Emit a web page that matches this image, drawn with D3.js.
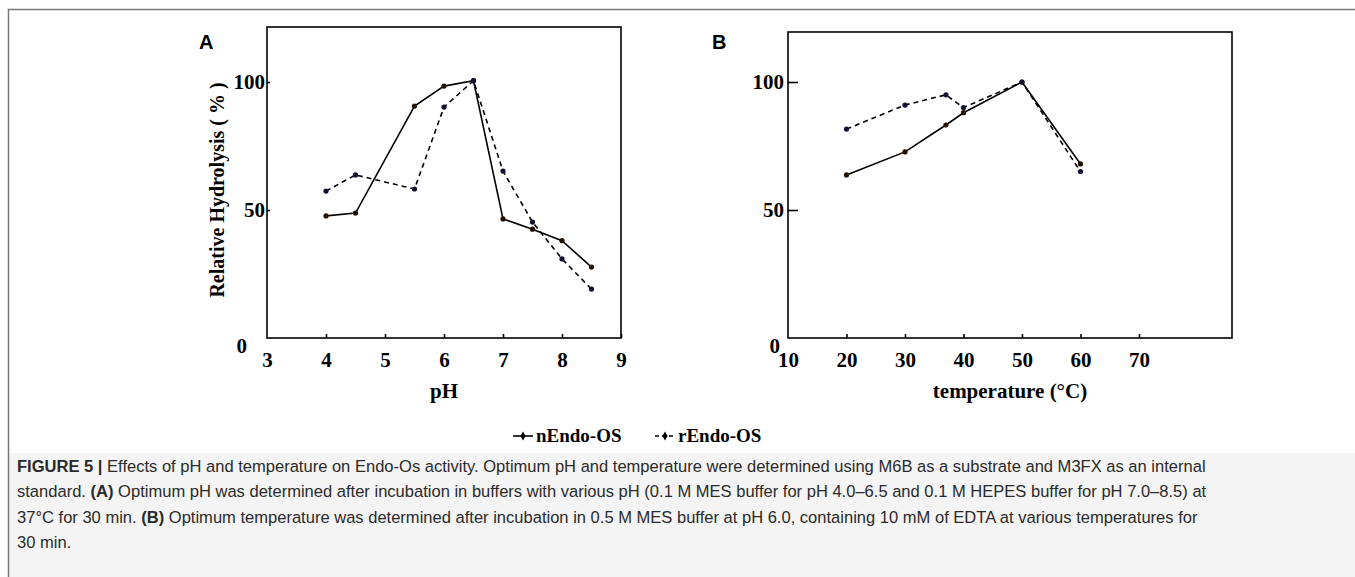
<!DOCTYPE html>
<html>
<head>
<meta charset="utf-8">
<script src="https://cdn.jsdelivr.net/npm/d3@7"></script>
<style>
  body { margin: 0; background: #fff; }
  svg { display: block; }
  .tick text { font-family: "Liberation Serif", "Times New Roman", serif; font-weight: bold; font-size: 21px; fill: #000; }
  .axis path, .axis line { stroke: #000; stroke-width: 1.6; }
  .caption { font-family: "Liberation Sans", Arial, sans-serif; font-size: 17px; fill: #2a2a2a; }
</style>
</head>
<body>
<svg id="chart" width="1355" height="577"></svg>
<script>
// panel A: pH
const phValues = [4, 4.5, 5.5, 6, 6.5, 7, 7.5, 8, 8.5];
const phNative = [47.7, 48.8, 90.6, 98.4, 100.5, 46.5, 42.5, 38, 27.7];
const phRecomb = [57.4, 63.7, 58.2, 90.2, 100.5, 65.2, 45.3, 30.9, 19.1];
const phTicks = [3, 4, 5, 6, 7, 8, 9];

// panel B: temperature
const tempValues = [20, 30, 37, 40, 50, 60];
const tempNative = [63.7, 72.7, 83.2, 88, 100, 68];
const tempRecomb = [81.6, 91, 95, 90, 100, 65];
const tempTicks = [10, 20, 30, 40, 50, 60, 70];

const yTicks = [0, 50, 100];
const seriesNames = ["nEndo-OS", "rEndo-OS"];

const captionLines = [
  [["FIGURE 5 | ", true], ["Effects of pH and temperature on Endo-Os activity. Optimum pH and temperature were determined using M6B as a substrate and M3FX as an internal", false]],
  [["standard. ", false], ["(A)", true], [" Optimum pH was determined after incubation in buffers with various pH (0.1 M MES buffer for pH 4.0–6.5 and 0.1 M HEPES buffer for pH 7.0–8.5) at", false]],
  [["37°C for 30 min. ", false], ["(B)", true], [" Optimum temperature was determined after incubation in 0.5 M MES buffer at pH 6.0, containing 10 mM of EDTA at various temperatures for", false]],
  [["30 min.", false]]
];

const svg = d3.select("#chart");
const serif = '"Liberation Serif", "Times New Roman", serif';

// outer frame + caption background
svg.append("rect").attr("x", 8).attr("y", 453).attr("width", 1347).attr("height", 124).attr("fill", "#f4f4f4");
svg.append("path").attr("d", "M8.5,577 V9.5 H1355").attr("fill", "none").attr("stroke", "#777").attr("stroke-width", 1.5);

function drawPanel(opts) {
  const g = svg.append("g");
  const x = d3.scaleLinear().domain(opts.xDomain).range([opts.left, opts.right]);
  const y = d3.scaleLinear().domain([0, 100]).range([338, 82]);

  // box
  g.append("rect")
    .attr("x", opts.left).attr("y", opts.top)
    .attr("width", opts.right - opts.left).attr("height", 338 - opts.top)
    .attr("fill", "none").attr("stroke", "#000").attr("stroke-width", 1.6);

  const xAxis = g.append("g").attr("class", "axis")
    .attr("transform", "translate(0,338)")
    .call(d3.axisBottom(x).tickValues(opts.xTicks).tickFormat(d3.format("d")).tickSize(-4).tickPadding(14));
  xAxis.select(".domain").remove();

  const yAxis = g.append("g").attr("class", "axis")
    .attr("transform", `translate(${opts.left},0)`)
    .call(d3.axisLeft(y).tickValues(yTicks).tickSize(-opts.yTick).tickPadding(opts.yPad));
  yAxis.select(".domain").remove();
  yAxis.selectAll(".tick").filter(d => d === 0).select("line").remove();
  yAxis.selectAll(".tick").filter(d => d === 0).select("text")
    .attr("dy", "0.7em").attr("x", -opts.zeroPad);
  xAxis.selectAll(".tick").filter(d => d === opts.xDomain[0]).select("line").remove();

  const line = d3.line().x(d => x(d[0])).y(d => y(d[1]));
  [opts.native, opts.recomb].forEach((vals, i) => {
    const pts = opts.xs.map((v, j) => [v, vals[j]]);
    g.append("path").datum(pts)
      .attr("d", line)
      .attr("fill", "none").attr("stroke", "#000").attr("stroke-width", 1.6)
      .attr("stroke-dasharray", i === 1 ? "5,4" : null);
    g.selectAll(null).data(pts).enter().append("circle")
      .attr("cx", d => x(d[0])).attr("cy", d => y(d[1])).attr("r", 2.6)
      .attr("fill", i === 1 ? "#111133" : "#221100");
  });

  g.append("text").text(opts.letter)
    .attr("x", opts.letterX).attr("y", 49)
    .attr("font-family", "Liberation Sans, Arial, sans-serif").attr("font-weight", "bold").attr("font-size", 20);

  g.append("text").text(opts.xTitle)
    .attr("x", opts.xTitleX).attr("y", 398).attr("text-anchor", "middle")
    .attr("font-family", serif).attr("font-weight", "bold").attr("font-size", 21);
}

drawPanel({
  letter: "A", letterX: 199, left: 267, right: 621, top: 27,
  xDomain: [3, 9], xTicks: phTicks, xs: phValues, native: phNative, recomb: phRecomb,
  yTick: 3, yPad: 2, zeroPad: 20, xTitle: "pH", xTitleX: 444
});
drawPanel({
  letter: "B", letterX: 712, left: 788, right: 1232, top: 32,
  xDomain: [10, 85.9], xTicks: tempTicks, xs: tempValues, native: tempNative, recomb: tempRecomb,
  yTick: 10, yPad: 4, zeroPad: 8, xTitle: "temperature (°C)", xTitleX: 1010
});

// y title (panel A only)
svg.append("text").text("Relative Hydrolysis ( % )")
  .attr("transform", "translate(224,190) rotate(-90)")
  .attr("text-anchor", "middle")
  .attr("font-family", serif).attr("font-weight", "bold").attr("font-size", 20);

// legend
const legend = svg.append("g");
seriesNames.forEach((name, i) => {
  const lx = 513 + i * 142;
  legend.append("line")
    .attr("x1", lx).attr("x2", lx + 20).attr("y1", 436).attr("y2", 436)
    .attr("stroke", "#000").attr("stroke-width", 1.6)
    .attr("stroke-dasharray", i === 1 ? "4,3" : null);
  legend.append("path")
    .attr("d", d3.symbol(d3.symbolDiamond, 24)())
    .attr("transform", `translate(${lx + 10},436)`);
  legend.append("text").text(name)
    .attr("x", lx + 23).attr("y", 442)
    .attr("font-family", serif).attr("font-weight", "bold").attr("font-size", 19);
});

// caption, squeezed horizontally to the condensed look of the original
const caption = svg.append("g");
const captionTexts = captionLines.map((parts, i) => {
  const t = caption.append("text").attr("class", "caption")
    .attr("x", 0).attr("y", 472 + i * 25.5);
  parts.forEach(p => {
    t.append("tspan").text(p[0]).attr("font-weight", p[1] ? "bold" : null);
  });
  return t;
});
const naturalWidth = captionTexts[0].node().getComputedTextLength();
const sx = 1189 / naturalWidth;
caption.attr("transform", `translate(17,0) scale(${sx},1)`);
</script>
</body>
</html>
